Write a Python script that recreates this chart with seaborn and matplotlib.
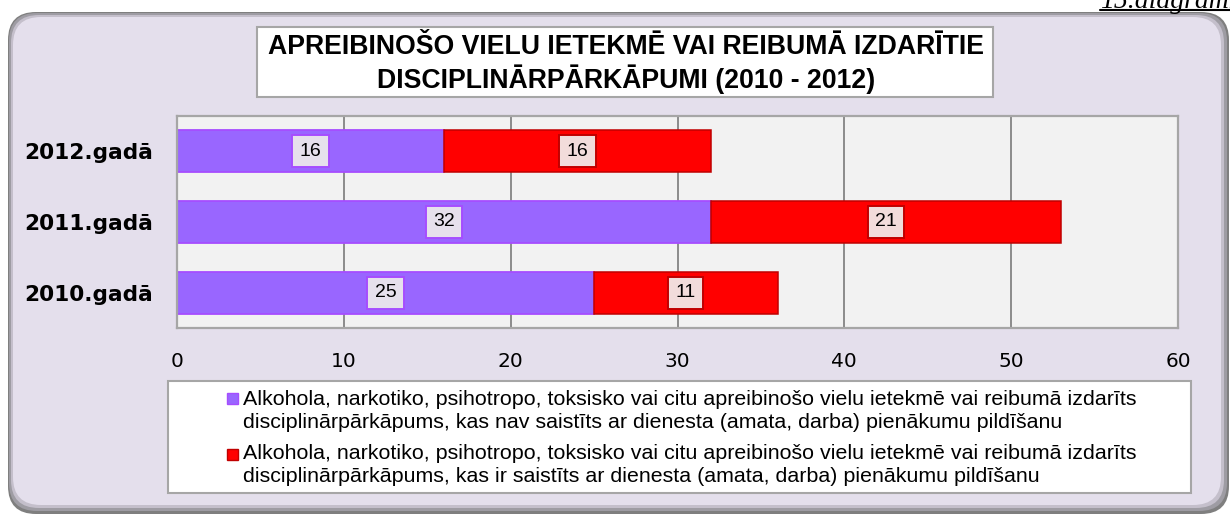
import matplotlib
matplotlib.use("Agg")
import numpy as np
import pandas as pd
import matplotlib.pyplot as plt
import seaborn as sns
from matplotlib.patches import FancyBboxPatch, Rectangle
from matplotlib.lines import Line2D
from matplotlib.transforms import IdentityTransform

# ── data ─────────────────────────────────────
years = ["2012.gadā", "2011.gadā", "2010.gadā"]
not_duty = [16, 32, 25]      # nav saistīts ar dienesta pienākumiem
duty = [16, 21, 11]          # ir saistīts ar dienesta pienākumiem
x_ticks = [0, 10, 20, 30, 40, 50, 60]

title = ("APREIBINOŠO VIELU IETEKMĒ VAI REIBUMĀ IZDARĪTIE\n"
         "DISCIPLINĀRPĀRKĀPUMI (2010 - 2012)")
legend_labels = [
    "Alkohola, narkotiko, psihotropo, toksisko vai citu apreibinošo vielu ietekmē vai reibumā izdarīts\n"
    "disciplinārpārkāpums, kas nav saistīts ar dienesta (amata, darba) pienākumu pildīšanu",
    "Alkohola, narkotiko, psihotropo, toksisko vai citu apreibinošo vielu ietekmē vai reibumā izdarīts\n"
    "disciplinārpārkāpums, kas ir saistīts ar dienesta (amata, darba) pienākumu pildīšanu",
]
corner_note = "15.diagramma"

PURPLE, PURPLE_EDGE = "#9966FF", "#A64DFF"
RED, RED_EDGE = "#FF0000", "#C00000"
W, H = 1230, 516

sns.set_style("white")
plt.rcParams["font.family"] = ["Liberation Sans", "DejaVu Sans"]
plt.rcParams["text.color"] = "black"
plt.rcParams["xtick.color"] = "black"
plt.rcParams["ytick.color"] = "black"

fig = plt.figure(figsize=(W / 100, H / 100), dpi=100)
fig.patch.set_facecolor("white")


def fx(x):
    return x / W


def fy(y):
    return 1 - y / H


# ── rounded chart background with shadowed border ──
layers = [(8, 12, 1229, 514, "#7F7F7F"),
          (9, 13, 1227, 511, "#9E9CA3"),
          (11, 15, 1224, 508, "#C4BFCB"),
          (13, 17, 1221, 505, "#E4DFEC")]
for x0, y0, x1, y1, c in layers:
    fig.patches.append(FancyBboxPatch(
        (x0, H - y1), x1 - x0, y1 - y0,
        boxstyle="round,pad=0,rounding_size=28",
        transform=IdentityTransform(), fc=c, ec="none", zorder=-5))

# ── corner note (partly cut off at top, as in the source) ──
fig.text(fx(1100), fy(8), corner_note, family="Liberation Serif",
         style="italic", fontsize=20, ha="left", va="baseline")
fig.add_artist(Line2D([fx(1100), fx(1232)], [fy(10), fy(10)],
                      color="black", lw=1.5, transform=fig.transFigure))

# ── title box ──
fig.patches.append(Rectangle((fx(257), fy(97)), fx(993) - fx(257), fy(27) - fy(97),
                             transform=fig.transFigure, fc="white", ec="#A6A6A6",
                             lw=1.5, zorder=1))
fig.text(fx(626), fy(64), title, ha="center", va="center", fontsize=19.2,
         fontweight="bold", linespacing=1.15, zorder=2)

# ── bars ──
ax = fig.add_axes([fx(177), fy(328), fx(1178) - fx(177), fy(116) - fy(328)])
df = pd.DataFrame({"year": years, "not_duty": not_duty, "duty": duty})

sns.barplot(data=df, y="year", x="not_duty", order=years, color=PURPLE,
            saturation=1, width=0.59, errorbar=None, edgecolor=PURPLE_EDGE,
            linewidth=1.3, ax=ax)
sns.barplot(data=df, y="year", x="duty", order=years, color=RED,
            saturation=1, width=0.59, errorbar=None, left=df["not_duty"].values,
            edgecolor=RED_EDGE, linewidth=1.1, ax=ax)

ax.bar_label(ax.containers[0], label_type="center", fontsize=14,
             bbox=dict(boxstyle="square,pad=0.38", fc="#E6E0EC", ec=PURPLE_EDGE, lw=1.4))
ax.bar_label(ax.containers[1], label_type="center", fontsize=14,
             bbox=dict(boxstyle="square,pad=0.38", fc="#F2DCDB", ec=RED_EDGE, lw=1.4))

ax.set_facecolor("#F2F2F2")
ax.set_xlim(0, 60)
ax.set_xticks(x_ticks)
ax.set_xlabel("")
ax.set_ylabel("")
ax.xaxis.grid(True, color="#8C8C8C", lw=1.4)
ax.yaxis.grid(False)
ax.set_axisbelow(True)
for s in ax.spines.values():
    s.set_visible(True)
    s.set_color("#A6A6A6")
    s.set_linewidth(1.6)

ax.tick_params(axis="x", length=0, pad=17, labelsize=14.5)
ax.tick_params(axis="y", length=0, pad=17)
for lab in ax.get_xticklabels():
    lab.set_family("DejaVu Sans")
for lab in ax.get_yticklabels():
    lab.set_family("DejaVu Sans")
    lab.set_fontweight("bold")
    lab.set_fontsize(15.6)

# ── legend box ──
fig.patches.append(Rectangle((fx(168), fy(493)), fx(1191) - fx(168), fy(381) - fy(493),
                             transform=fig.transFigure, fc="white", ec="#A6A6A6",
                             lw=1.5, zorder=1))
marker_tops = [393, 449]
baselines = [405, 459]
for label, color, edge, mt, bl in zip(legend_labels, [PURPLE, RED], [PURPLE_EDGE, RED_EDGE],
                                      marker_tops, baselines):
    fig.patches.append(Rectangle((fx(227), fy(mt + 11)), fx(238) - fx(227), fy(mt) - fy(mt + 11),
                                 transform=fig.transFigure, fc=color, ec=edge,
                                 lw=1, zorder=2))
    for i, line in enumerate(label.split("\n")):
        fig.text(fx(243), fy(bl + 23 * i), line, ha="left", va="baseline",
                 fontsize=15.4, zorder=3)

fig.savefig("out.png", dpi=100)
